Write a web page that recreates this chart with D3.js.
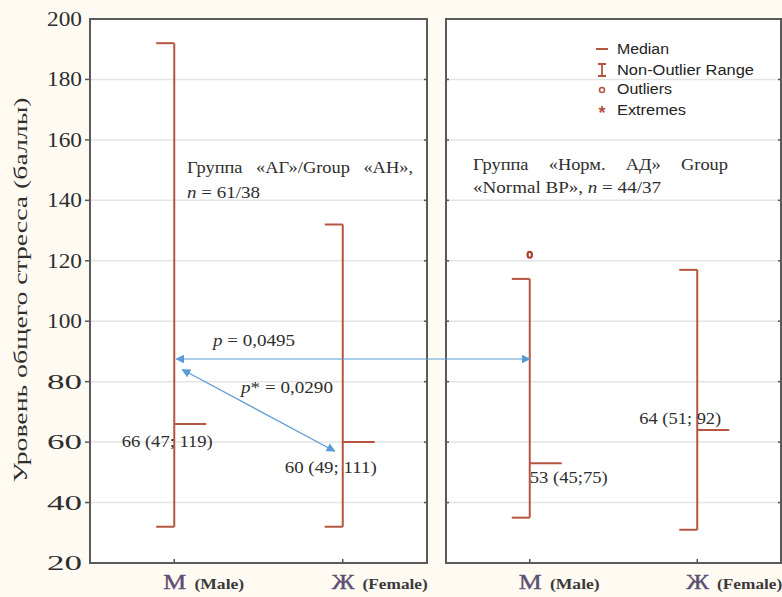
<!DOCTYPE html>
<html><head><meta charset="utf-8">
<script src="https://cdn.jsdelivr.net/npm/d3@7"></script>
<style>body{margin:0;background:#fffbf3;}svg{display:block;}</style>
</head><body>
<script>
// ---- data ----
const panels = ["АГ", "Норм. АД"];
const sexes = ["М", "Ж"];
const sexEn = ["(Male)", "(Female)"];
const lowers = [32, 32, 35, 31];
const uppers = [192, 132, 114, 117];
const medians = [66, 60, 53, 64];
const outliers = [[], [], [122], []];
const medianLabels = ["66 (47; 119)", "60 (49; 111)", "53 (45;75)", "64 (51; 92)"];
const yTicks = [20, 40, 60, 80, 100, 120, 140, 160, 180, 200];
const legendItems = ["Median", "Non-Outlier Range", "Outliers", "Extremes"];
const pValues = ["p = 0,0495", "p* = 0,0290"];
const groupTitles = [["Группа «АГ»/Group «АН»,", "n = 61/38"], ["Группа «Норм. АД» Group", "«Normal BP», n = 44/37"]];

// ---- layout ----
const W = 782, H = 597;
const topY = 19, bottomY = 563;
const panelX = [[90, 427], [446, 781]];
const boxCol = "#b5553f", blue = "#5b9bd5";
const serif = "'Liberation Serif','Times New Roman',serif";
const txtCol = "#2e2e2e";

const svg = d3.select("body").append("svg").attr("width", W).attr("height", H);
svg.append("rect").attr("width", W).attr("height", H).attr("fill", "#fffbf3");

const y = d3.scaleLinear().domain([20, 200]).range([bottomY, topY]);
const xs = panelX.map(([a, b]) => d3.scalePoint().domain(sexes).range([a, b]).padding(0.5));

// panels
panelX.forEach(([a, b], pi) => {
  const g = svg.append("g");
  g.append("rect").attr("x", a).attr("y", topY).attr("width", b - a).attr("height", bottomY - topY).attr("fill", "#fff");
  g.selectAll("line.grid").data(yTicks.slice(1, -1)).join("line").attr("class", "grid")
    .attr("x1", a).attr("x2", b).attr("y1", d => y(d)).attr("y2", d => y(d))
    .attr("stroke", "#e4e4e4").attr("stroke-width", 1.5);
  g.selectAll("line.tl").data(yTicks.slice(1, -1)).join("line").attr("class", "tl")
    .attr("x1", a).attr("x2", a + (pi === 0 ? -5 : 3)).attr("y1", d => y(d)).attr("y2", d => y(d))
    .attr("stroke", "#555").attr("stroke-width", 1.5);
  g.selectAll("line.tr").data(yTicks.slice(1, -1)).join("line").attr("class", "tr")
    .attr("x1", b).attr("x2", b - 3).attr("y1", d => y(d)).attr("y2", d => y(d))
    .attr("stroke", "#555").attr("stroke-width", 1.5);
  g.selectAll("line.bt").data(sexes).join("line").attr("class", "bt")
    .attr("x1", d => xs[pi](d)).attr("x2", d => xs[pi](d)).attr("y1", bottomY).attr("y2", bottomY - 4)
    .attr("stroke", "#555").attr("stroke-width", 1.5);
  g.append("rect").attr("x", a).attr("y", topY).attr("width", b - a).attr("height", bottomY - topY)
    .attr("fill", "none").attr("stroke", "#5a5a5a").attr("stroke-width", 2);
});

// y tick labels
svg.selectAll("text.yt").data(yTicks).join("text").attr("class", "yt")
  .attr("x", 82).attr("y", d => y(d) + 7).attr("text-anchor", "end")
  .attr("font-family", serif).attr("font-size", 20).attr("fill", txtCol)
  .attr("textLength", 35).attr("lengthAdjust", "spacingAndGlyphs")
  .text(d => d);

// y title
svg.append("text").attr("transform", `translate(27,290) rotate(-90)`).attr("text-anchor", "middle")
  .attr("font-family", serif).attr("font-size", 19).attr("fill", txtCol)
  .attr("textLength", 385).attr("lengthAdjust", "spacingAndGlyphs")
  .text("Уровень общего стресса (баллы)");

// boxes
const boxes = [];
panels.forEach((p, pi) => sexes.forEach((s, si) => boxes.push({ pi, s, si, i: pi * 2 + si })));
const capL = 18, medR = 32;
boxes.forEach(b => {
  const x = xs[b.pi](b.s);
  const g = svg.append("g").attr("stroke", boxCol).attr("stroke-width", 2).attr("fill", "none");
  g.append("line").attr("x1", x).attr("x2", x).attr("y1", y(uppers[b.i])).attr("y2", y(lowers[b.i]));
  g.append("line").attr("x1", x - capL).attr("x2", x).attr("y1", y(uppers[b.i])).attr("y2", y(uppers[b.i]));
  g.append("line").attr("x1", x - capL).attr("x2", x).attr("y1", y(lowers[b.i])).attr("y2", y(lowers[b.i]));
  g.append("line").attr("x1", x).attr("x2", x + medR).attr("y1", y(medians[b.i])).attr("y2", y(medians[b.i]));
  outliers[b.i].forEach(o => {
    g.append("ellipse").attr("cx", x).attr("cy", y(o)).attr("rx", 2.2).attr("ry", 3)
      .attr("stroke", "#a8402c").attr("stroke-width", 2.2);
  });
});

// median labels (offsets from the median point)
const labOff = [[-7, 23, 91], [-12, 31, 92], [39, 20, 78], [-17, -6, 82]];
boxes.forEach(b => {
  const x = xs[b.pi](b.s), o = labOff[b.i];
  svg.append("text").attr("x", x + o[0]).attr("y", y(medians[b.i]) + o[1]).attr("text-anchor", "middle")
    .attr("font-family", serif).attr("font-size", 16).attr("fill", txtCol)
    .attr("textLength", o[2]).attr("lengthAdjust", "spacingAndGlyphs").text(medianLabels[b.i]);
});

// x labels (Cyrillic letter centred on the tick, English gloss after it)
const xLabLen = [81, 96];
boxes.forEach(b => {
  const x = xs[b.pi](b.s);
  const t = svg.append("text").attr("x", x - 11).attr("y", 589).attr("text-anchor", "start").attr("font-family", serif)
    .attr("textLength", xLabLen[b.si]).attr("lengthAdjust", "spacingAndGlyphs");
  t.append("tspan").attr("font-size", 22).attr("fill", "#5b4f72").attr("stroke", "#5b4f72").attr("stroke-width", 0.4).text(b.s);
  t.append("tspan").attr("font-size", 15).attr("font-weight", "bold").attr("fill", "#3a3a3a").attr("dx", 7).text(sexEn[b.si]);
});

// group titles: first line justified, second line natural
const titlePos = [[187, 173, 226, 198, 73], [473, 170, 255, 193, 188]];
const stretch = 1.15;
groupTitles.forEach((t, i) => {
  const p = titlePos[i];
  const words = t[0].split(" ");
  const els = words.map(w => svg.append("text").attr("y", p[1]).attr("font-family", serif).attr("font-size", 16).attr("fill", txtCol).text(w));
  const widths = els.map(e => e.node().getComputedTextLength() * stretch);
  const gap = (p[2] - d3.sum(widths)) / (words.length - 1);
  let cx = p[0];
  els.forEach((e, k) => {
    e.attr("x", cx).attr("textLength", widths[k]).attr("lengthAdjust", "spacingAndGlyphs");
    cx += widths[k] + gap;
  });
  const l2 = svg.append("text").attr("x", p[0]).attr("y", p[3]).attr("font-family", serif).attr("font-size", 16).attr("fill", txtCol)
    .attr("textLength", p[4]).attr("lengthAdjust", "spacingAndGlyphs");
  const idx = t[1].indexOf("n =");
  l2.append("tspan").text(t[1].slice(0, idx));
  l2.append("tspan").attr("font-style", "italic").text("n");
  l2.append("tspan").text(t[1].slice(idx + 1));
});

// arrows
const defs = svg.append("defs");
defs.append("marker").attr("id", "ar").attr("viewBox", "0 0 10 10").attr("refX", 9).attr("refY", 5)
  .attr("markerWidth", 9).attr("markerHeight", 9).attr("markerUnits", "userSpaceOnUse").attr("orient", "auto-start-reverse")
  .append("path").attr("d", "M0,0 L10,5 L0,10 Z").attr("fill", blue);
const xML = xs[0]("М"), xFL = xs[0]("Ж"), xMR = xs[1]("М");
svg.append("line").attr("x1", xML + 2).attr("x2", xMR).attr("y1", y(87.5)).attr("y2", y(87.5))
  .attr("stroke", blue).attr("stroke-width", 1.2).attr("marker-start", "url(#ar)").attr("marker-end", "url(#ar)");
svg.append("line").attr("x1", xML + 8).attr("x2", xFL - 8).attr("y1", y(84)).attr("y2", y(57))
  .attr("stroke", blue).attr("stroke-width", 1.2).attr("marker-start", "url(#ar)").attr("marker-end", "url(#ar)");

const pPos = [[213, 346, 82], [241, 393, 92]];
pValues.forEach((pv, i) => {
  const t = svg.append("text").attr("x", pPos[i][0]).attr("y", pPos[i][1]).attr("font-family", serif).attr("font-size", 17).attr("fill", txtCol)
    .attr("textLength", pPos[i][2]).attr("lengthAdjust", "spacingAndGlyphs");
  t.append("tspan").attr("font-style", "italic").text("p");
  t.append("tspan").text(pv.slice(1));
});

// legend
const legY = [49, 70, 89, 110], legX = 602;
const lg = svg.append("g");
legendItems.forEach((d, i) => {
  const yy = legY[i];
  if (i === 0) lg.append("line").attr("x1", legX - 6).attr("x2", legX + 6).attr("y1", yy).attr("y2", yy).attr("stroke", boxCol).attr("stroke-width", 2);
  if (i === 1) lg.append("path").attr("d", `M${legX - 4},${yy - 6}H${legX + 4}M${legX},${yy - 6}V${yy + 6}M${legX - 4},${yy + 6}H${legX + 4}`).attr("stroke", boxCol).attr("stroke-width", 1.8).attr("fill", "none");
  if (i === 2) lg.append("circle").attr("cx", legX).attr("cy", yy + 1).attr("r", 2.5).attr("stroke", boxCol).attr("stroke-width", 1.6).attr("fill", "none");
  if (i === 3) lg.append("text").attr("x", legX).attr("y", yy + 9).attr("text-anchor", "middle").attr("font-family", "'Liberation Sans',Arial").attr("font-size", 18).attr("font-weight", "bold").attr("fill", boxCol).text("*");
  lg.append("text").attr("x", 617).attr("y", yy + 5).attr("font-family", "'Liberation Sans',Arial,sans-serif").attr("font-size", 14).attr("fill", "#222")
    .attr("textLength", [52, 137, 55, 69][i]).attr("lengthAdjust", "spacingAndGlyphs").text(d);
});
</script>
</body></html>
